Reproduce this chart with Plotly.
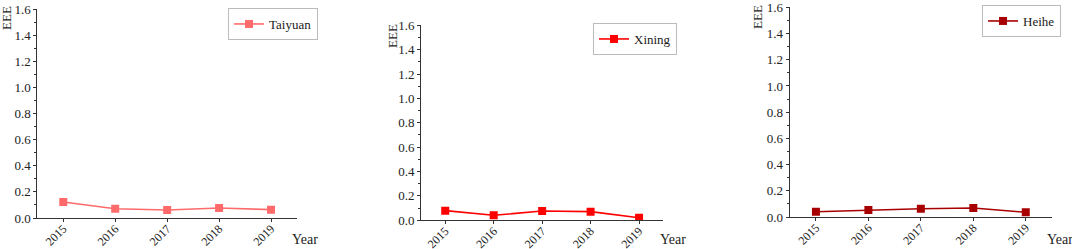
import plotly.graph_objects as go

years = ["2015", "2016", "2017", "2018", "2019"]
taiyuan = [0.123, 0.071, 0.061, 0.077, 0.064]
xining = [0.079, 0.041, 0.076, 0.071, 0.021]
heihe = [0.040, 0.053, 0.063, 0.069, 0.036]

names = ["Taiyuan", "Xining", "Heihe"]
series = [taiyuan, xining, heihe]
colors = ["#FF6B6B", "#FF0000", "#A80000"]

W, H = 1072, 249
# pixel geometry of each panel: (x_left, x_right, y_zero, y_top)
panels = [(37.3, 297.0, 218.0, 9.3), (421.0, 663.3, 220.3, 25.3), (789.7, 1052.0, 217.0, 7.3)]
legend_pos = [(318, 8), (677, 23), (1061, 5)]
eee_pos = [(6, 18), (392, 36), (758, 17)]
year_x = [290, 658, 1045]

FONT = "Liberation Serif"
fig = go.Figure()
for i, (nm, vals, col) in enumerate(zip(names, series, colors)):
    sfx = "" if i == 0 else str(i + 1)
    fig.add_trace(go.Scatter(
        x=years, y=vals, mode="lines+markers", name=nm,
        line=dict(color=col, width=1.6),
        marker=dict(symbol="square", size=8, color=col),
        xaxis="x" + sfx, yaxis="y" + sfx, legend="legend" + sfx,
    ))
    xl, xr, y0, yt = panels[i]
    axx = dict(domain=[xl / W, xr / W], anchor="y" + sfx, type="category",
               range=[-0.5, 4.5], showline=True, linecolor="#333", linewidth=1,
               ticks="outside", ticklen=3, tickcolor="#333", tickangle=-45,
               ticklabelstandoff=-5, automargin=False, ticklabeloverflow="allow",
               tickfont=dict(family=FONT, size=12, color="#222"), showgrid=False,
               zeroline=False)
    axy = dict(domain=[1 - y0 / H, 1 - yt / H], anchor="x" + sfx, range=[0, 1.6],
               tickvals=[0, 0.2, 0.4, 0.6, 0.8, 1.0, 1.2, 1.4, 1.6],
               ticktext=["0.0", "0.2", "0.4", "0.6", "0.8", "1.0", "1.2", "1.4", "1.6"],
               showline=True, linecolor="#333", linewidth=1, automargin=False,
               ticklabeloverflow="allow",
               ticks="outside", ticklen=3, tickcolor="#333",
               minor=dict(dtick=0.1, ticks="outside", ticklen=2, tickcolor="#333"),
               tickfont=dict(family=FONT, size=13, color="#222"), showgrid=False,
               zeroline=False)
    fig.update_layout(**{"xaxis" + sfx: axx, "yaxis" + sfx: axy})
    lx, ly = legend_pos[i]
    fig.update_layout(**{"legend" + sfx: dict(
        x=lx / W, y=1 - ly / H, xanchor="right", yanchor="top",
        bordercolor="#BBBBBB", borderwidth=1, bgcolor="white",
        font=dict(family=FONT, size=13, color="#222"),
        itemwidth=30, tracegroupgap=0)})
    ex, ey = eee_pos[i]
    fig.add_annotation(text="EEE", x=ex / W, y=1 - ey / H, xref="paper", yref="paper",
                       xanchor="center", yanchor="middle", textangle=-90, showarrow=False,
                       font=dict(family=FONT, size=13, color="#222"))
    fig.add_annotation(text="Year", x=year_x[i] / W, y=1 - 239 / H, xref="paper", yref="paper",
                       xanchor="left", yanchor="middle", showarrow=False,
                       font=dict(family=FONT, size=14, color="#222"))

fig.update_layout(width=W, height=H, margin=dict(l=0, r=0, t=0, b=0, autoexpand=False),
                  paper_bgcolor="white", plot_bgcolor="white", showlegend=True)
fig.write_html("out.html", config={"responsive": False, "displayModeBar": False},
               post_script="document.body.style.margin='0';document.body.style.padding='0';")
